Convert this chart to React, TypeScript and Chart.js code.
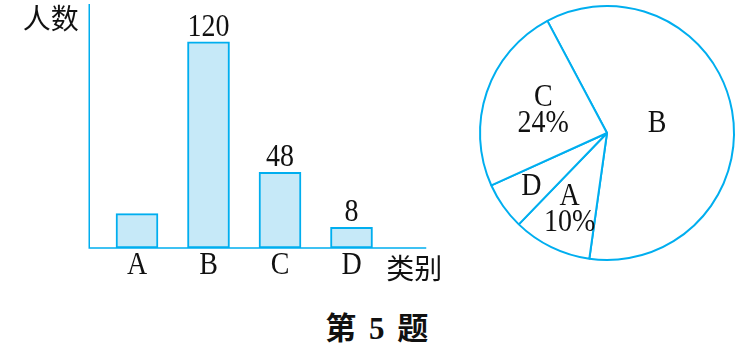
import { useEffect, useRef } from "react";
import { Chart, registerables } from "chart.js";

Chart.register(...registerables);

// ---------- data ----------
const categories = ["A", "B", "C", "D"];
const barHeights = [20, 120, 44, 12]; // bar heights as drawn in the figure
const barValueLabels = ["", "120", "48", "8"]; // numbers printed above the bars
const yAxisMax = 142;

const pieCategories = ["B", "A", "D", "C"];
const pieShares = [60, 10, 6, 24];
const pieTexts = [["B"], ["A", "10%"], ["D"], ["C", "24%"]];
const pieLabelRadius = [0.4, 0.67, 0.73, 0.53];
const pieStartDeg = -28;

const yTitle = "人数";
const xTitle = "类别";
const caption = "第 5 题";

// ---------- style ----------
const BLUE = "#00AEEF";
const FILL = "#C6E9F8";
const INK = "#111";
const SERIF = '"Liberation Serif", "Times New Roman", serif';
const CJK = '"Noto Sans CJK SC", sans-serif';
const STRETCH = 1.1; // the printed serif glyphs are slightly taller than wide

function tallText(ctx: CanvasRenderingContext2D, t: string, x: number, y: number) {
  ctx.save();
  ctx.translate(x, y);
  ctx.scale(1, STRETCH);
  ctx.fillText(t, 0, 0);
  ctx.restore();
}

const barDecor = {
  id: "barDecor",
  afterDatasetsDraw(chart: any) {
    const { ctx, chartArea, scales } = chart;
    const xs = scales.x;
    const axisLeft = chartArea.left - 12;
    const axisRight = chartArea.right + 39;
    ctx.save();
    // axes
    ctx.strokeStyle = BLUE;
    ctx.lineWidth = 1.5;
    ctx.beginPath();
    ctx.moveTo(axisLeft, chartArea.top);
    ctx.lineTo(axisLeft, chartArea.bottom);
    ctx.lineTo(axisRight, chartArea.bottom);
    ctx.stroke();

    ctx.fillStyle = INK;
    ctx.textAlign = "center";
    ctx.textBaseline = "middle";
    ctx.font = `28px ${SERIF}`;
    // category labels
    categories.forEach((c, i) => {
      tallText(ctx, c, xs.getPixelForValue(i), chartArea.bottom + 17.5);
    });
    // value labels
    ctx.textBaseline = "alphabetic";
    const meta = chart.getDatasetMeta(0);
    meta.data.forEach((bar: any, i: number) => {
      const t = barValueLabels[i];
      if (t) tallText(ctx, t, bar.x, bar.y - 6);
    });
    // axis titles
    ctx.font = `28px ${CJK}`;
    ctx.textBaseline = "middle";
    ctx.fillText(yTitle, axisLeft - 38.5, chartArea.top + 14.5);
    ctx.fillText(xTitle, axisRight - 12, chartArea.bottom + 20.5);
    ctx.restore();
  },
};

const pieDecor = {
  id: "pieDecor",
  afterDatasetsDraw(chart: any) {
    const { ctx } = chart;
    const meta = chart.getDatasetMeta(0);
    ctx.save();
    ctx.fillStyle = INK;
    ctx.font = `28px ${SERIF}`;
    ctx.textAlign = "center";
    ctx.textBaseline = "middle";
    meta.data.forEach((arc: any, i: number) => {
      const p = arc.getProps(["x", "y", "startAngle", "endAngle", "outerRadius"], true);
      const mid = (p.startAngle + p.endAngle) / 2;
      const r = p.outerRadius * pieLabelRadius[i];
      const cx = p.x + Math.cos(mid) * r;
      const cy = p.y + Math.sin(mid) * r;
      const lines = pieTexts[i];
      const lh = 26;
      lines.forEach((t, j) => {
        tallText(ctx, t, cx, cy + (j - (lines.length - 1) / 2) * lh);
      });
    });
    ctx.restore();
  },
};

function BarPanel() {
  const ref = useRef<HTMLCanvasElement | null>(null);
  useEffect(() => {
    if (!ref.current) return;
    const chart = new Chart(ref.current, {
      type: "bar",
      data: {
        labels: categories,
        datasets: [
          {
            data: barHeights,
            backgroundColor: FILL,
            borderColor: BLUE,
            borderWidth: 2,
            borderSkipped: false,
            barThickness: 42,
          },
        ],
      },
      options: {
        responsive: false,
        animation: false,
        devicePixelRatio: 1,
        events: [],
        layout: { padding: { left: 101.25, right: 72.75, top: 4, bottom: 52 } },
        scales: {
          x: { display: false },
          y: { display: false, min: 0, max: yAxisMax },
        },
        plugins: { legend: { display: false }, tooltip: { enabled: false } },
      },
      plugins: [barDecor],
    });
    return () => chart.destroy();
  }, []);
  return (
    <canvas
      ref={ref}
      width={460}
      height={300}
      style={{ position: "absolute", left: 0, top: 0, width: 460, height: 300 }}
    />
  );
}

function PiePanel() {
  const ref = useRef<HTMLCanvasElement | null>(null);
  useEffect(() => {
    if (!ref.current) return;
    const chart = new Chart(ref.current, {
      type: "pie",
      data: {
        labels: pieCategories,
        datasets: [
          {
            data: pieShares,
            backgroundColor: "#FFFFFF",
            borderColor: BLUE,
            borderWidth: 2,
            offset: 0,
            hoverOffset: 0,
          },
        ],
      },
      options: {
        responsive: false,
        animation: false,
        devicePixelRatio: 1,
        events: [],
        rotation: pieStartDeg,
        layout: { padding: { left: 9, top: 5, right: 4, bottom: 9 } },
        plugins: { legend: { display: false }, tooltip: { enabled: false } },
      },
      plugins: [pieDecor],
    });
    return () => chart.destroy();
  }, []);
  return (
    <canvas
      ref={ref}
      width={269}
      height={270}
      style={{ position: "absolute", left: 470, top: 0, width: 269, height: 270 }}
    />
  );
}

export default function App() {
  return (
    <div
      style={{
        position: "fixed",
        left: 0,
        top: 0,
        width: 739,
        height: 351,
        background: "#fff",
        overflow: "hidden",
      }}
    >
      <BarPanel />
      <PiePanel />
      <div
        style={{
          position: "absolute",
          left: 278,
          top: 313,
          width: 200,
          textAlign: "center",
          font: `bold 31px "Liberation Serif", "Noto Sans CJK SC", serif`,
          letterSpacing: "2.5px",
          lineHeight: "31px",
          color: INK,
          whiteSpace: "pre",
        }}
      >
        {caption}
      </div>
    </div>
  );
}
